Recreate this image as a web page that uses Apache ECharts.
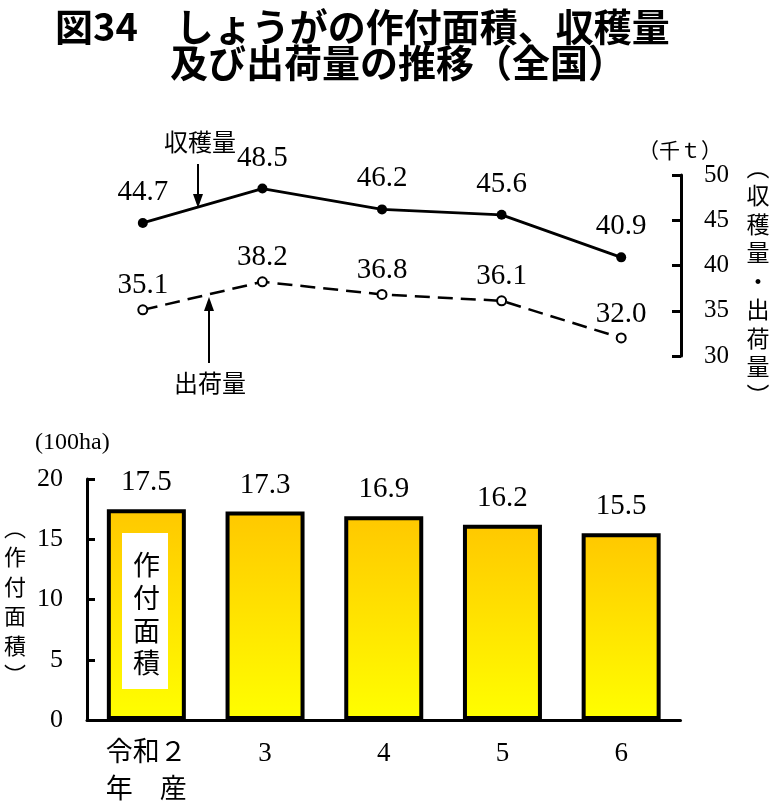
<!DOCTYPE html>
<html>
<head>
<meta charset="utf-8">
<script src="https://cdn.jsdelivr.net/npm/echarts@6/dist/echarts.min.js"></script>
<style>html,body{margin:0;padding:0;background:#fff;}#c{width:778px;height:811px;}</style>
</head>
<body>
<div id="c"></div>
<script>
const categories = ['令和２\n年　産', '3', '4', '5', '6'];
const harvest = [44.7, 48.5, 46.2, 45.6, 40.9];
const shipment = [35.1, 38.2, 36.8, 36.1, 32.0];
const area = [17.5, 17.3, 16.9, 16.2, 15.5];
const lineTicks = {min: 30, max: 50, interval: 5};
const barTicks = {min: 0, max: 20, interval: 5};

const SERIF = '"Liberation Serif", "Noto Sans CJK JP", serif';
const JP = '"Noto Sans CJK JP", sans-serif';

const chart = echarts.init(document.getElementById('c'), null, {renderer: 'canvas'});

function label(distance) {
  return {
    show: true, position: 'top', distance: distance, color: '#000',
    fontFamily: SERIF, fontSize: 29,
    formatter: p => Number(p.value).toFixed(1)
  };
}

const option = {
  backgroundColor: '#fff',
  animation: false,
  grid: [
    {left: 83, width: 598, top: 175, height: 181},
    {left: 87, width: 593.5, top: 479, height: 241}
  ],
  xAxis: [
    {type: 'category', gridIndex: 0, data: categories, show: false},
    {type: 'category', gridIndex: 1, data: categories,
     axisLine: {lineStyle: {color: '#000', width: 3}},
     axisTick: {show: false},
     axisLabel: {color: '#000', fontFamily: SERIF, fontSize: 27, lineHeight: 37, margin: 15}}
  ],
  yAxis: [
    {type: 'value', gridIndex: 0, position: 'right', min: lineTicks.min, max: lineTicks.max, interval: lineTicks.interval,
     axisLine: {show: true, lineStyle: {color: '#000', width: 3}},
     axisTick: {show: true, inside: true, length: 9, lineStyle: {color: '#000', width: 3}},
     splitLine: {show: false},
     axisLabel: {color: '#000', fontFamily: SERIF, fontSize: 25, margin: 23}},
    {type: 'value', gridIndex: 1, min: barTicks.min, max: barTicks.max, interval: barTicks.interval,
     axisLine: {show: true, lineStyle: {color: '#000', width: 3}},
     axisTick: {show: true, inside: true, length: 8, lineStyle: {color: '#000', width: 3}},
     splitLine: {show: false},
     axisLabel: {color: '#000', fontFamily: SERIF, fontSize: 26, margin: 24}}
  ],
  series: [
    {type: 'line', name: '収穫量', xAxisIndex: 0, yAxisIndex: 0, data: harvest,
     symbol: 'circle', symbolSize: 10,
     lineStyle: {color: '#000', width: 2.8},
     itemStyle: {color: '#000'},
     label: label(11)},
    {type: 'line', name: '出荷量', xAxisIndex: 0, yAxisIndex: 0, data: shipment,
     symbol: 'circle', symbolSize: 9,
     lineStyle: {color: '#000', width: 2.5, type: [15, 8]},
     itemStyle: {color: '#fff', borderColor: '#000', borderWidth: 2},
     label: label(4)},
    {type: 'bar', name: '作付面積', xAxisIndex: 1, yAxisIndex: 1, data: area,
     barWidth: 79,
     itemStyle: {
       color: new echarts.graphic.LinearGradient(0, 0, 0, 1, [
         {offset: 0, color: '#FFC800'}, {offset: 1, color: '#FFFF00'}
       ]),
       borderColor: '#000', borderWidth: 4
     },
     label: label(12)}
  ],
  graphic: [
    {type: 'text', left: 55, top: 8, style: {text: '図34　しょうがの作付面積、収穫量', font: 'bold 38px ' + JP, fill: '#000'}},
    {type: 'text', left: 170, top: 44, style: {text: '及び出荷量の推移（全国）', font: 'bold 38px ' + JP, fill: '#000'}},
    // annotations top chart
    {type: 'text', x: 200, y: 142, style: {text: '収穫量', font: '24px ' + JP, fill: '#000', align: 'center', verticalAlign: 'middle'}},
    {type: 'line', shape: {x1: 198, y1: 164, x2: 198, y2: 200}, style: {stroke: '#000', lineWidth: 2}},
    {type: 'polygon', shape: {points: [[193, 194], [203, 194], [198, 208]]}, style: {fill: '#000'}},
    {type: 'text', x: 210, y: 383, style: {text: '出荷量', font: '24px ' + JP, fill: '#000', align: 'center', verticalAlign: 'middle'}},
    {type: 'line', shape: {x1: 209, y1: 363, x2: 209, y2: 305}, style: {stroke: '#000', lineWidth: 2}},
    {type: 'polygon', shape: {points: [[204, 311], [214, 311], [209, 297]]}, style: {fill: '#000'}},
    {type: 'text', x: 680, y: 150, style: {text: '（千ｔ）', font: '21px ' + JP, fill: '#000', align: 'center', verticalAlign: 'middle'}},
    {type: 'text', x: 758, y: 281, style: {text: '︵\n収\n穫\n量\n・\n出\n荷\n量\n︶', font: '23px ' + JP, lineHeight: 28.5, fill: '#000', align: 'center', verticalAlign: 'middle'}},
    // annotations bottom chart
    {type: 'text', x: 35, y: 443, style: {text: '(100ha)', font: '24px ' + SERIF, fill: '#000', align: 'left', verticalAlign: 'middle'}},
    {type: 'text', x: 15, y: 601, style: {text: '︵\n作\n付\n面\n積\n︶', font: '22px ' + JP, lineHeight: 29.5, fill: '#000', align: 'center', verticalAlign: 'middle'}},
    {type: 'rect', z: 10, shape: {x: 122, y: 533, width: 46, height: 156}, style: {fill: '#fff'}},
    {type: 'text', z: 11, x: 146.5, y: 614, style: {text: '作\n付\n面\n積', font: '27px ' + JP, lineHeight: 32.7, fill: '#000', align: 'center', verticalAlign: 'middle'}}
  ]
};
chart.setOption(option);
</script>
</body>
</html>
